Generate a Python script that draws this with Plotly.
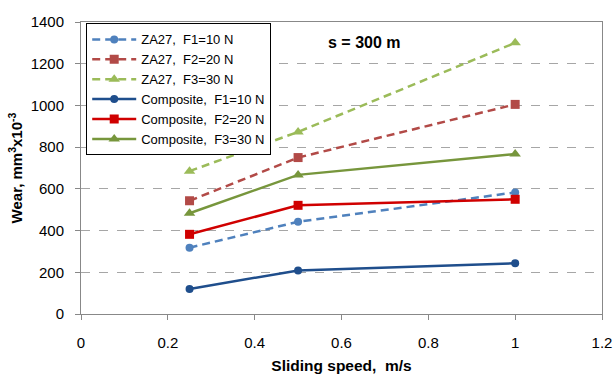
import plotly.graph_objects as go

speed = [0.25, 0.5, 1.0]
za27_f1 = [318, 442, 583]
za27_f2 = [543, 750, 1005]
za27_f3 = [685, 873, 1300]
comp_f1 = [120, 209, 243]
comp_f2 = [382, 521, 550]
comp_f3 = [483, 667, 767]

names = ["ZA27,  F1=10 N", "ZA27,  F2=20 N", "ZA27,  F3=30 N",
         "Composite,  F1=10 N", "Composite,  F2=20 N", "Composite,  F3=30 N"]
series = [za27_f1, za27_f2, za27_f3, comp_f1, comp_f2, comp_f3]
colors = ["#4F81BD", "#B24A47", "#9BBB59", "#1F4E8C", "#D00000", "#77963C"]
symbols = ["circle", "square", "triangle-up", "circle", "square", "triangle-up"]
dashes = ["dash", "dash", "dash", "solid", "solid", "solid"]
sizes = [8, 9, 10, 8, 9, 10]

fig = go.Figure()
for n, s, c, sym, d, sz in zip(names, series, colors, symbols, dashes, sizes):
    fig.add_trace(go.Scatter(
        x=speed, y=s, name=n, mode="lines+markers",
        line=dict(color=c, width=2.5, dash=d if d == "solid" else "8px,5px"),
        marker=dict(symbol=sym, size=sz, color=c),
    ))

fig.add_annotation(x=0.652, y=1300, xref="x", yref="y", text="<b>s = 300 m</b>",
                   showarrow=False, font=dict(size=16, color="black"))

fig.update_layout(
    width=616, height=374,
    margin=dict(l=81, r=14, t=22, b=60),
    paper_bgcolor="white", plot_bgcolor="white",
    font=dict(family="Liberation Sans, Arial, sans-serif", size=15, color="black"),
    showlegend=True,
    legend=dict(x=0.01, y=0.995, xanchor="left", yanchor="top",
                bordercolor="black", borderwidth=1, bgcolor="white",
                font=dict(size=13), tracegroupgap=0, itemwidth=44),
    xaxis=dict(range=[0, 1.2], dtick=0.2, tickformat="~g", automargin=False,
               showgrid=False, showline=True, linecolor="#888", linewidth=1,
               mirror=True, ticks="outside", ticklen=5, tickcolor="#888",
               ticklabelstandoff=10, zeroline=False,
               title=dict(text="<b>Sliding speed,  m/s</b>", font=dict(size=15.5), standoff=13)),
    yaxis=dict(range=[0, 1400], dtick=200, automargin=False,
               showgrid=True, gridcolor="#A6A6A6", griddash="dash", gridwidth=1,
               showline=True, linecolor="#888", linewidth=1, mirror=True,
               ticks="outside", ticklen=5, tickcolor="#888", zeroline=False,
               ticklabelstandoff=8,
               title=dict(text="<b>Wear, mm<sup>3</sup>x10<sup>-3</sup></b>", font=dict(size=15), standoff=4)),
)

fig.write_html("out.html")
